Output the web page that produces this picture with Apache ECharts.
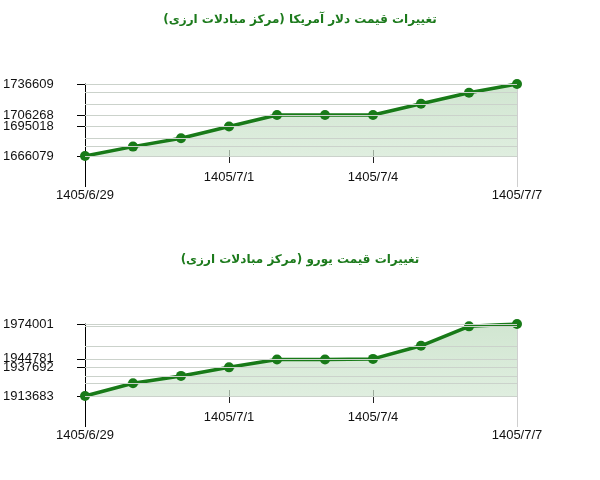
<!DOCTYPE html>
<html>
<head>
<meta charset="utf-8">
<script src="https://cdn.jsdelivr.net/npm/echarts@6/dist/echarts.min.js"></script>
<style>
html,body{margin:0;padding:0;background:#fff;}
#c{width:600px;height:480px;}
</style>
</head>
<body>
<div id="c"></div>
<script>
const dates = ['1405/6/29','1405/6/30','1405/6/31','1405/7/1','1405/7/2','1405/7/3','1405/7/4','1405/7/5','1405/7/6','1405/7/7'];
const usdValues = [1666079,1675264,1683466,1695018,1706268,1706268,1706268,1717255,1728079,1736609];
const usdTicks = [1666079,1695018,1706268,1736609];
const eurValues = [1913683,1924342,1930513,1937692,1944200,1944200,1944781,1955758,1972027,1974001];
const eurTicks = [1913683,1937692,1944781,1974001];
const titleTexts = ['تغییرات قیمت دلار آمریکا (مرکز مبادلات ارزی)', 'تغییرات قیمت یورو (مرکز مبادلات ارزی)'];

const charts = [
  {title: titleTexts[0], values: usdValues, ticks: usdTicks},
  {title: titleTexts[1], values: eurValues, ticks: eurTicks}
];
const lastIdx = dates.length - 1;
const tops = [84, 324];
const titleTops = [9, 249];
const labelFont = {fontFamily: 'Liberation Sans, Arial, sans-serif', fontSize: 13, color: '#111'};

const option = {
  animation: false,
  backgroundColor: '#fff',
  title: [], grid: [], xAxis: [], yAxis: [], series: []
};

charts.forEach((c, g) => {
  option.title.push({
    text: c.title, left: 'center', top: titleTops[g],
    textStyle: {fontFamily: 'DejaVu Sans, sans-serif', fontWeight: 'bold', fontSize: 12, color: '#1c7a1c'}
  });
  option.grid.push({left: 85, right: 83, top: tops[g], height: 72, containLabel: false});
  const mn = Math.min(...c.values), mx = Math.max(...c.values);
  // main x axis
  option.xAxis.push({
    type: 'category', gridIndex: g, position: 'bottom', data: dates, boundaryGap: false,
    axisLine: {show: true, lineStyle: {color: '#555', width: 1}},
    axisTick: {show: true, interval: (i) => i === 3 || i === 6, length: 7, lineStyle: {color: '#222'}},
    axisLabel: {
      show: true, interval: (i) => i % 3 === 0, margin: 15,
      ...labelFont,
      formatter: (v, i) => (i === 0 || i === lastIdx) ? '{b|' + v + '}' : '{a|' + v + '}',
      rich: {a: {...labelFont}, b: {...labelFont, padding: [18, 0, 0, 0]}}
    },
    splitLine: {show: true, interval: (i) => i === lastIdx, lineStyle: {color: '#cfcfcf', width: 1}}
  });
  // inside ticks (upper half of straddling ticks)
  option.xAxis.push({
    type: 'category', gridIndex: g, position: 'bottom', offset: 0, data: dates, boundaryGap: false,
    axisLine: {show: false},
    axisTick: {show: true, inside: true, interval: (i) => i === 3 || i === 6, length: 6, lineStyle: {color: '#222'}},
    axisLabel: {show: false}, splitLine: {show: false}
  });
  // long extension at first category
  option.xAxis.push({
    type: 'category', gridIndex: g, position: 'bottom', offset: 0, data: dates, boundaryGap: false,
    axisLine: {show: false},
    axisTick: {show: true, interval: (i) => i === 0, length: 31, lineStyle: {color: '#000', width: 1}},
    axisLabel: {show: false}, splitLine: {show: false}
  });
  // long extension at last category
  option.xAxis.push({
    type: 'category', gridIndex: g, position: 'bottom', offset: 0, data: dates, boundaryGap: false,
    axisLine: {show: false},
    axisTick: {show: true, interval: (i) => i === lastIdx, length: 31, lineStyle: {color: '#cfcfcf', width: 1}},
    axisLabel: {show: false}, splitLine: {show: false}
  });
  option.yAxis.push({
    type: 'value', gridIndex: g, position: 'left', min: mn, max: mx,
    axisLine: {show: true, lineStyle: {color: '#000', width: 1}},
    axisTick: {show: true, length: 8, customValues: c.ticks, lineStyle: {color: '#000'}},
    axisLabel: {
      show: true, customValues: c.ticks, align: 'left', margin: 82,
      padding: [0, 0, 8, 0], ...labelFont,
      formatter: (v) => String(v)
    },
    splitLine: {show: false}
  });
  option.yAxis.push({
    type: 'value', gridIndex: g, position: 'left', offset: 0, min: mn, max: mx,
    axisLine: {show: false},
    axisTick: {show: true, inside: true, length: 6, customValues: c.ticks, lineStyle: {color: '#000'}},
    axisLabel: {show: false}, splitLine: {show: false}
  });
  option.series.push({
    type: 'line', xAxisIndex: 4 * g, yAxisIndex: 2 * g, data: c.values,
    symbol: 'circle', symbolSize: 10, showSymbol: true,
    lineStyle: {color: '#187a18', width: 3.5},
    itemStyle: {color: '#187a18'},
    areaStyle: {
      color: new echarts.graphic.LinearGradient(0, 0, 0, 1, [
        {offset: 0, color: '#bddbbd'}, {offset: 1, color: '#d2e7d2'}
      ])
    },
    markLine: {
      silent: true, symbol: ['none', 'none'], animation: false,
      label: {show: false},
      lineStyle: {color: '#cbd2cb', type: 'solid', width: 1},
      emphasis: {disabled: true},
      data: c.values.map(v => ({yAxis: v}))
    },
    z: 3
  });
});

const chart = echarts.init(document.getElementById('c'));
chart.setOption(option);
</script>
</body>
</html>
